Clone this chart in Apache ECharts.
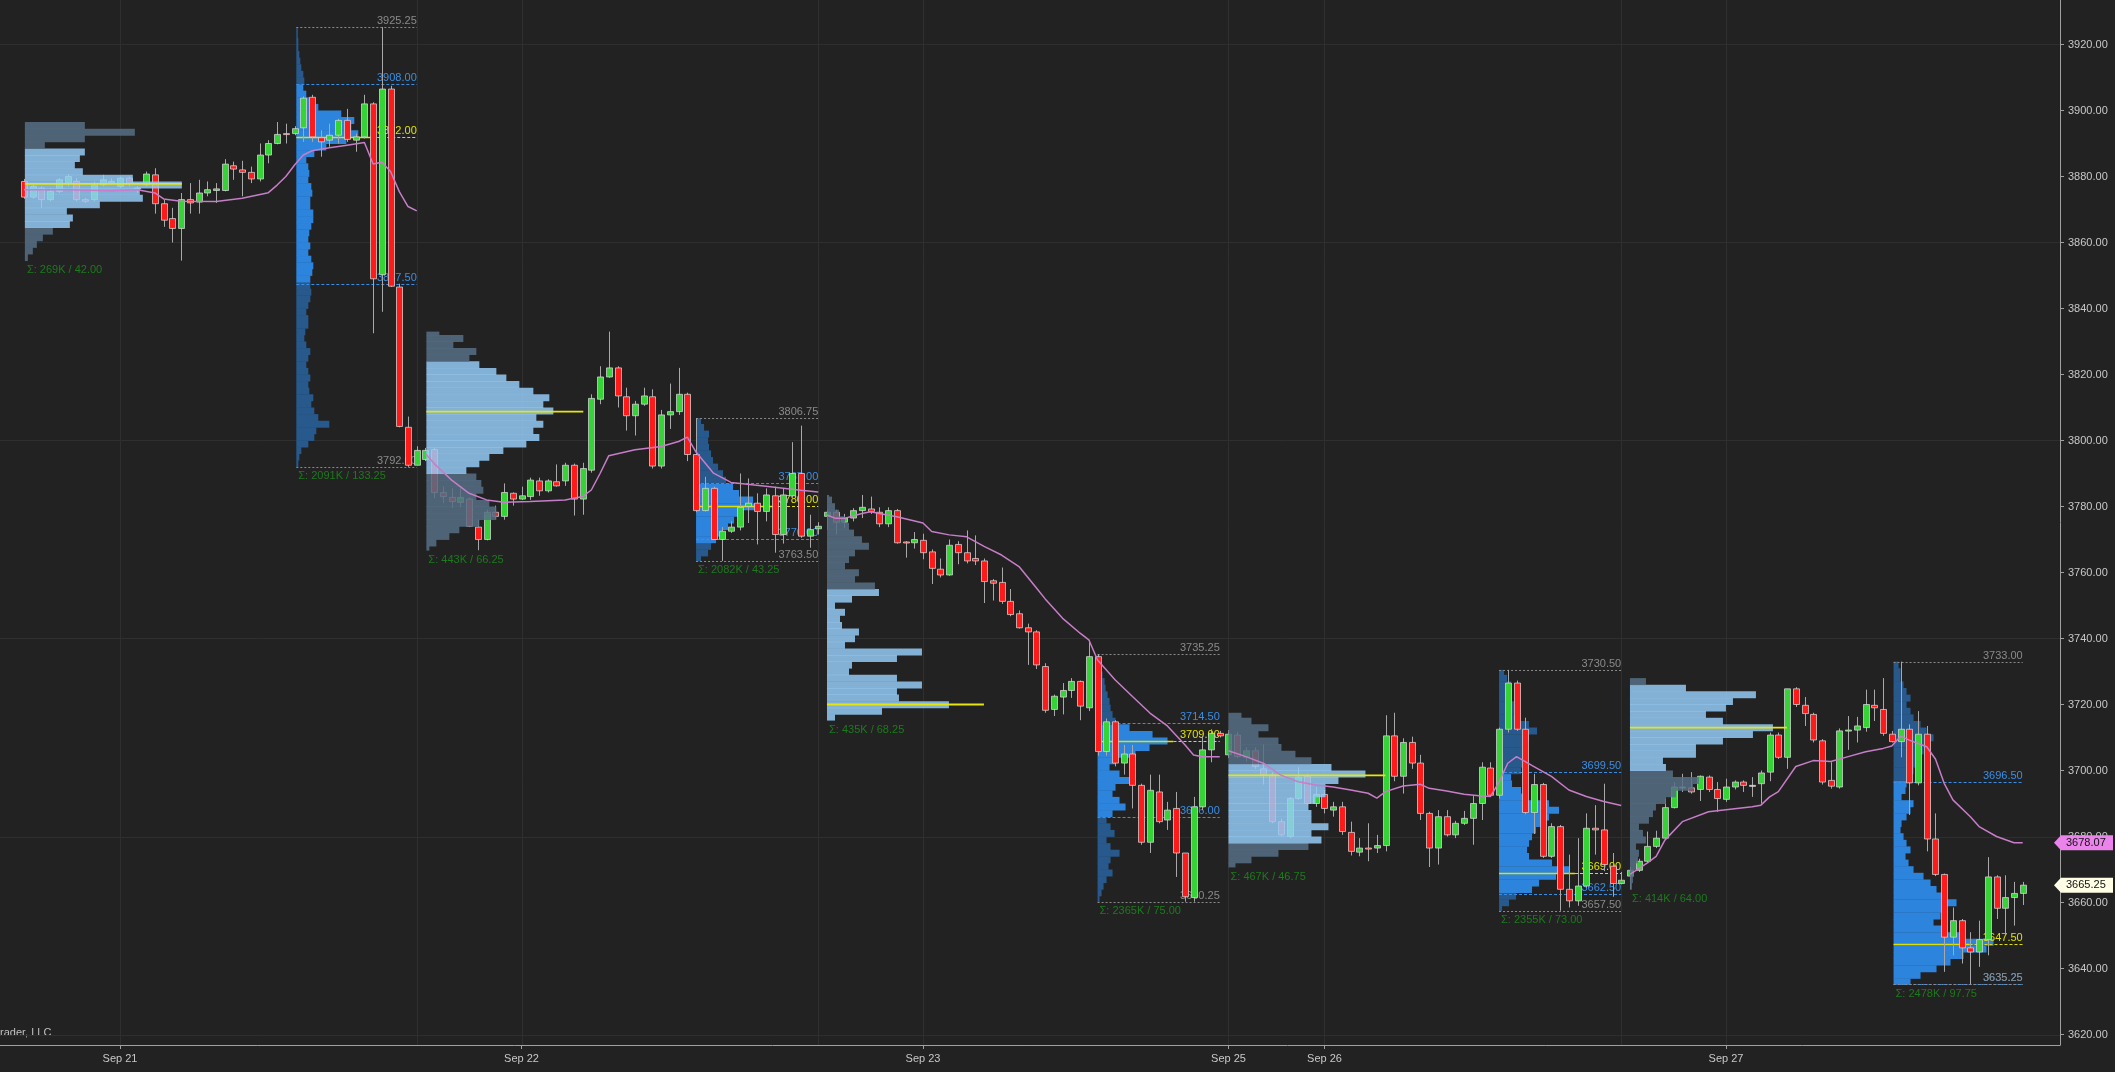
<!DOCTYPE html>
<html>
<head>
<meta charset="utf-8">
<script src="https://cdn.jsdelivr.net/npm/echarts@6/dist/echarts.min.js"></script>
<style>
html,body{margin:0;padding:0;background:#222222;overflow:hidden;}
#chart{width:2115px;height:1072px;}
</style>
</head>
<body>
<div id="chart"></div>
<script>
// ---------------- DATA ----------------
const dayBars  = [11, 57, 103, 138, 149, 195];
const dayNames = ['Sep 21', 'Sep 22', 'Sep 23', 'Sep 25', 'Sep 26', 'Sep 27'];
const gridBarsX = [11, 45, 57, 91, 103, 138, 149, 183, 195];
const gridPricesY = [3620, 3680, 3740, 3800, 3860, 3920];
const priceTicks = [3620, 3640, 3660, 3680, 3700, 3720, 3740, 3760, 3780, 3800, 3820, 3840, 3860, 3880, 3900, 3920];

// 30-minute bars, [open, high, low, close], one array per session
const sessionFirstBar = [0, 31, 46, 77, 92, 123, 138, 169, 184, 215];
const eth0920 = [
[3878.5,3879.25,3873.25,3873.75],[3873.75,3877.5,3873.25,3877.0],[3876.5,3877.0,3870.5,3873.0],
[3873.0,3876.5,3872.5,3875.5],[3875.5,3879.5,3875.0,3879.0],[3878.0,3880.75,3877.0,3880.0],
[3878.5,3879.5,3872.5,3873.0],[3873.0,3873.5,3872.0,3872.5],[3873.0,3878.5,3872.5,3877.5],
[3877.5,3880.5,3877.0,3879.0],[3878.0,3879.5,3877.5,3878.5],[3877.0,3880.0,3876.5,3879.5],
[3879.5,3880.0,3877.0,3878.0],[3876.5,3877.0,3875.0,3876.25],[3877.5,3881.5,3877.0,3880.75],
[3880.5,3882.5,3868.75,3871.75],[3871.75,3873.0,3864.75,3866.75],[3867.25,3870.5,3860.0,3864.25],
[3864.25,3875.0,3854.5,3873.0],[3873.0,3878.0,3868.75,3872.0],[3872.25,3879.0,3868.75,3875.0],
[3875.0,3878.5,3874.0,3876.0],[3875.75,3878.0,3872.0,3876.25],[3875.75,3885.25,3875.5,3883.75],
[3883.25,3884.5,3879.0,3882.25],[3882.0,3884.75,3874.0,3881.25],[3881.25,3883.0,3878.0,3879.25],
[3879.25,3890.0,3878.5,3886.5],[3886.5,3891.0,3884.0,3890.0],[3890.0,3896.5,3889.75,3892.75],
[3893.0,3896.0,3890.0,3892.75]];
const rth0921 = [
[3893.0,3895.25,3892.5,3894.5],[3894.75,3904.25,3890.5,3903.75],[3904.0,3904.75,3890.5,3892.0],
[3891.75,3894.0,3886.0,3890.5],[3891.0,3896.0,3889.0,3892.5],[3892.5,3897.5,3890.0,3897.0],
[3897.0,3900.5,3890.5,3891.25],[3891.0,3893.0,3887.5,3892.0],[3892.0,3904.75,3891.5,3902.0],
[3902.0,3902.5,3832.5,3849.0],[3850.25,3925.25,3839.0,3906.5],[3906.5,3907.5,3846.5,3846.75],
[3846.5,3847.5,3804.0,3804.25],[3804.0,3807.25,3792.0,3792.5],[3792.5,3798.25,3792.5,3797.0]];
const eth0921 = [
[3794.25,3797.75,3793.75,3797.0],[3797.25,3797.75,3782.5,3784.25],[3784.25,3786.0,3781.0,3783.0],
[3782.75,3785.5,3779.5,3781.5],[3781.25,3785.5,3779.75,3782.75],[3782.25,3782.75,3773.75,3774.0],
[3773.75,3776.0,3766.75,3770.0],[3770.0,3779.0,3769.75,3778.25],[3778.25,3780.25,3776.25,3777.0],
[3777.0,3787.0,3776.0,3784.25],[3784.0,3784.25,3780.25,3782.25],[3782.25,3786.0,3782.0,3783.25],
[3783.0,3788.75,3782.0,3788.0],[3787.75,3788.75,3783.25,3784.75],[3784.75,3788.25,3784.25,3787.75],
[3787.5,3792.75,3786.0,3786.25],[3787.75,3793.25,3786.25,3792.5],[3792.5,3793.0,3777.25,3782.25],
[3782.25,3793.25,3777.5,3791.5],[3791.0,3814.0,3790.25,3812.75],[3812.5,3822.5,3811.0,3819.25],
[3819.25,3833.0,3819.0,3822.0],[3822.0,3822.5,3810.0,3813.5],[3813.25,3816.0,3803.0,3807.5],
[3807.5,3812.0,3801.5,3811.0],[3811.0,3816.0,3810.5,3813.5],[3813.25,3815.5,3791.5,3792.25],
[3792.25,3809.25,3791.5,3807.75],[3807.75,3817.25,3803.5,3808.75],[3808.75,3822.0,3807.75,3814.0],
[3814.0,3814.5,3793.75,3795.75]];
const rth0922 = [
[3795.75,3806.75,3778.25,3778.75],[3778.75,3789.0,3778.5,3785.5],[3785.5,3786.0,3770.0,3770.0],
[3770.0,3773.75,3763.5,3772.5],[3772.5,3775.5,3772.0,3773.75],[3773.75,3790.0,3772.75,3779.75],
[3780.0,3788.5,3775.0,3781.0],[3781.0,3784.0,3768.5,3778.5],[3778.5,3785.5,3775.5,3783.5],
[3783.25,3786.0,3766.0,3771.5],[3771.5,3785.5,3768.75,3783.5],[3783.25,3799.5,3782.75,3790.0],
[3790.0,3804.5,3770.5,3771.0],[3771.0,3777.5,3767.5,3773.0],[3773.25,3775.25,3771.5,3774.0]];
const eth0922 = [
[3777.0,3779.0,3773.0,3778.25],[3778.25,3779.0,3771.5,3775.25],[3775.25,3777.75,3773.5,3776.5],
[3776.5,3779.5,3775.5,3778.75],[3778.75,3783.5,3776.5,3779.75],[3779.25,3783.0,3777.75,3778.5],
[3778.25,3779.75,3773.75,3774.75],[3774.75,3779.75,3773.75,3778.75],[3778.75,3779.25,3768.75,3769.0],
[3769.25,3769.5,3764.5,3769.0],[3769.0,3772.25,3767.25,3770.0],[3769.75,3771.75,3764.0,3766.0],
[3766.25,3767.0,3756.5,3761.25],[3761.0,3764.25,3758.5,3759.25],[3759.25,3770.0,3759.0,3768.25],
[3768.5,3769.5,3762.5,3766.0],[3766.0,3772.75,3762.75,3763.5],[3764.25,3771.25,3762.25,3763.5],
[3763.5,3764.25,3750.75,3757.25],[3757.5,3758.0,3751.5,3756.75],[3757.0,3761.5,3750.5,3751.25],
[3751.25,3755.0,3746.75,3747.25],[3747.5,3748.5,3743.0,3743.25],[3743.25,3744.5,3732.0,3742.0],
[3742.0,3742.5,3730.75,3732.0],[3731.5,3732.5,3717.5,3718.25],[3718.5,3723.0,3716.5,3722.5],
[3722.25,3726.5,3717.0,3724.25],[3724.25,3728.0,3722.0,3727.0],[3727.0,3727.25,3715.25,3719.5],
[3719.0,3739.5,3718.0,3734.5]];
const rth0923 = [
[3734.5,3735.25,3704.5,3705.75],[3705.75,3715.75,3704.5,3714.75],[3714.75,3715.25,3701.25,3702.25],
[3702.25,3707.75,3698.75,3705.0],[3705.0,3707.75,3688.5,3695.5],[3695.5,3696.0,3677.5,3678.25],
[3678.25,3698.75,3675.0,3694.0],[3693.5,3698.75,3684.0,3684.5],[3685.0,3690.5,3682.0,3688.0],
[3688.5,3693.5,3667.75,3675.0],[3675.0,3675.0,3660.25,3661.75],[3661.5,3692.0,3660.25,3689.0],
[3689.0,3710.5,3688.0,3706.25],[3706.25,3712.5,3702.5,3711.25],[3711.25,3712.0,3710.0,3710.5]];
const eth0925 = [
[3704.75,3712.25,3703.75,3711.0],[3710.75,3711.75,3703.75,3704.25],[3704.0,3707.0,3702.75,3706.0],
[3706.0,3707.0,3700.5,3701.25],[3700.5,3708.0,3695.75,3698.75],[3698.75,3699.5,3684.0,3684.5],
[3684.5,3685.5,3680.0,3680.5],[3680.0,3692.0,3679.5,3691.5],[3691.5,3701.0,3691.0,3698.0],
[3698.25,3699.0,3689.5,3690.0],[3690.0,3695.0,3689.0,3692.75],[3692.75,3694.0,3687.0,3688.5],
[3688.0,3690.5,3686.0,3689.0],[3689.0,3690.5,3680.5,3681.5],[3681.25,3684.5,3674.25,3675.5],
[3675.25,3679.5,3674.0,3676.5],[3676.5,3684.0,3672.5,3676.25],[3676.5,3680.5,3675.0,3677.25],
[3677.25,3716.75,3675.5,3710.5],[3710.5,3717.5,3696.75,3698.25],[3698.25,3709.75,3693.0,3708.5],
[3708.5,3710.25,3700.5,3702.25],[3702.25,3704.75,3685.0,3687.0],[3687.0,3687.5,3670.75,3676.5],
[3676.5,3688.0,3671.5,3686.0],[3686.0,3688.0,3680.0,3680.5],[3680.5,3684.75,3679.5,3684.0],
[3684.0,3687.75,3683.5,3685.5],[3685.5,3692.25,3677.5,3690.0],[3690.0,3702.5,3685.0,3701.0],
[3700.75,3702.5,3692.0,3692.5]];
const rth0926 = [
[3692.5,3713.0,3691.5,3712.5],[3712.5,3730.5,3711.5,3726.5],[3726.5,3727.25,3712.0,3712.5],
[3712.5,3716.0,3686.75,3687.25],[3687.25,3699.0,3680.75,3695.75],[3695.75,3696.25,3673.5,3674.0],
[3674.0,3684.0,3673.5,3683.0],[3683.0,3683.5,3657.5,3664.0],[3664.0,3674.5,3658.5,3660.5],
[3660.5,3679.5,3659.0,3665.0],[3665.0,3687.0,3664.5,3682.5],[3682.5,3689.5,3674.5,3682.0],
[3682.0,3696.0,3669.5,3671.5],[3671.0,3675.0,3661.75,3665.75],[3665.75,3669.25,3665.5,3666.75]];
const eth0926 = [
[3668.0,3670.75,3664.0,3669.75],[3669.75,3673.25,3669.25,3672.5],[3672.5,3681.5,3672.0,3677.0],
[3677.0,3681.75,3676.5,3679.5],[3679.5,3691.5,3679.0,3688.75],[3688.75,3696.5,3688.5,3695.0],
[3695.0,3699.0,3693.5,3695.0],[3694.75,3699.5,3693.0,3693.5],[3694.25,3698.5,3690.75,3698.25],
[3698.0,3698.5,3693.5,3694.25],[3694.25,3696.5,3687.5,3691.5],[3691.25,3697.5,3690.5,3695.0],
[3695.0,3697.0,3694.25,3696.5],[3696.5,3697.0,3693.5,3695.5],[3695.5,3698.0,3692.0,3695.5],
[3696.0,3700.0,3690.0,3699.25],[3699.5,3711.5,3696.75,3710.75],[3710.75,3711.5,3703.5,3704.0],
[3704.0,3724.75,3700.5,3724.75],[3724.75,3725.25,3719.25,3720.0],[3719.75,3722.25,3713.5,3717.25],
[3717.0,3717.5,3708.5,3709.25],[3709.0,3709.5,3695.75,3696.5],[3697.0,3702.5,3694.5,3695.25],
[3695.0,3712.75,3694.5,3712.0],[3712.0,3716.5,3706.25,3712.25],[3712.25,3716.25,3708.5,3713.5],
[3713.0,3724.5,3711.75,3720.0],[3719.75,3724.5,3715.0,3719.0],[3718.5,3728.0,3710.5,3711.25],
[3711.0,3712.0,3708.5,3708.75]];
const rth0927 = [
[3708.75,3733.0,3704.0,3712.5],[3712.5,3714.0,3686.5,3696.25],[3696.25,3718.0,3695.5,3711.0],
[3711.0,3713.5,3675.5,3679.25],[3679.25,3687.0,3668.0,3668.5],[3668.5,3668.75,3639.0,3649.5],
[3649.5,3658.5,3644.0,3654.5],[3654.5,3655.0,3641.5,3646.25],[3646.25,3651.0,3635.25,3645.0],
[3645.0,3654.5,3640.5,3648.75],[3648.75,3673.75,3644.0,3667.75],[3667.75,3668.25,3655.0,3658.25],
[3658.25,3668.25,3650.0,3661.5],[3661.5,3666.25,3653.0,3662.75],[3662.75,3666.25,3659.25,3665.25]];

// VWAP readings [bar, price], one line per trading day
const vwapDay1 = [[0,3876],[5,3876],[10,3875.7],[13,3876],[15,3875],[16,3873.2],[18,3872.5],[22,3872.4],[25,3873.4],[28,3875.1],[29,3877.4],[30,3880],[31,3883.5],[32,3886.5],[33,3887.8],[35,3888.7],[37,3889.5],[39,3890.3],[40,3883.8],[41,3884.3],[42,3881.5],[43,3875.4],[44,3870.9],[45,3869.6]];
const vwapDay2 = [[46,3796],[47,3793],[49,3788],[51,3784],[53,3782],[55,3781.3],[58,3781.5],[62,3782],[64,3783],[65,3785],[66,3790],[67,3795.4],[70,3797.2],[73,3798.2],[75,3799.7],[76,3801],[77,3796.5],[79,3790.1],[81,3787.3],[85,3786.1],[89,3784.9],[91,3784.4]];
const vwapDay3 = [[92,3777.4],[93,3776.4],[94,3776.4],[96,3777.9],[97,3778.4],[98,3777.9],[100,3776.9],[103,3775],[104,3772.4],[106,3771.4],[108,3770.8],[110,3767.9],[112,3765.3],[114,3761.8],[116,3755.3],[117,3752],[119,3746.1],[121,3741.6],[122,3739.6],[123,3733.5],[125,3727.5],[127,3722.4],[129,3717.4],[131,3713.5],[133,3707.8],[134,3704.7],[135,3704.2],[137,3704.2]];
const vwapDay4 = [[138,3706],[140,3704.2],[142,3702.2],[144,3698.6],[146,3696.6],[148,3695.6],[150,3695],[152,3694.1],[154,3693.1],[155,3691.6],[156,3693.6],[158,3695.3],[160,3695.8],[161,3694.6],[163,3693.8],[165,3692.8],[167,3692.3],[168,3692.1],[169,3696.5],[170,3702.2],[171,3704.2],[173,3701.2],[175,3698.2],[177,3694.1],[179,3692.1],[181,3690.6],[183,3689.4]];
const vwapDay5 = [[184,3668.5],[186,3672],[187,3674],[188,3678.9],[190,3684.5],[193,3687.5],[198,3689],[199,3689.5],[200,3692],[201,3693.6],[203,3701.2],[205,3703],[207,3702.7],[209,3704.2],[211,3705.7],[213,3706.7],[214,3707.4],[215,3710.4],[216,3709.2],[218,3707.2],[219,3703.5],[220,3696.1],[221,3691.1],[223,3686],[224,3683],[226,3680],[228,3678.1],[229,3678.07]];

// Session volume profiles (relative volume per 2-point price bin, from bin low upward)
const profStart = [0.1, 31.2, 46.1, 77, 92, 123, 138, 169, 184, 214.2];
const profLo    = [3854.5, 3792, 3766, 3763, 3715, 3660, 3670, 3657, 3664, 3635];
const profHigh  = [3896.5, 3925.25, 3833, 3806.75, 3783.5, 3735.25, 3717.5, 3730.5, 3728, 3733];
const profLow   = [3854.5, 3792, 3766.75, 3763.5, 3715.25, 3660.25, 3670.75, 3657.5, 3664, 3635.25];
const profPoc   = [3877.75, 3892, 3808.75, 3780, 3720, 3709, 3698.5, 3669, 3713, 3647.5];
const profVah   = [3887.5, 3908, 3823, 3787, 3755.25, 3714.5, 3701.25, 3699.5, 3725.5, 3696.5];
const profVal   = [3865.5, 3847.5, 3789.5, 3770, 3715.25, 3686, 3678.25, 3662.5, 3699.5, 3635.25];
const profTotal = ['269K', '2091K', '443K', '2082K', '435K', '2365K', '467K', '2355K', '414K', '2478K'];
const volEth0920 = [3,8,12,18,28,45,48,42,75,118,115,157,108,58,50,55,60,20,60,110,60];
const volRth0921 = [2,3,5,12,18,20,33,22,18,15,17,13,12,14,12,10,12,14,10,8,9,12,12,10,12,14,15,14,14,16,17,15,12,14,12,13,15,17,17,14,14,16,15,12,13,12,10,18,30,50,62,55,58,45,22,14,10,7,8,7,5,4,3,2,2,1,1];
const volEth0921 = [3,10,23,33,53,70,70,63,50,57,55,50,40,53,63,77,100,113,107,117,110,127,117,123,107,93,80,70,53,43,50,27,37,13];
const volRth0922 = [5,12,15,20,27,32,38,43,63,57,43,37,30,27,22,17,15,13,12,13,8,5];
const volEth0922 = [8,55,122,72,70,95,70,22,25,70,95,18,28,32,15,13,18,8,25,52,48,28,32,18,22,28,42,35,27,22,18,12,8,5,2];
const volRth0923 = [2,4,6,9,15,11,13,22,13,9,17,13,9,15,28,22,15,18,32,22,12,18,38,52,70,55,32,18,15,13,12,10,8,7,5,3,2,2];
const volEth0925 = [7,23,50,80,93,83,100,83,83,80,87,97,97,110,137,103,83,67,53,50,30,40,23,13];
const volRth0926 = [3,10,17,33,40,57,70,53,30,28,30,33,37,43,50,60,50,28,22,13,12,22,23,24,25,27,30,38,30,18,15,15,13,13,12,8,5];
const volEth0926 = [2,3,4,6,8,9,6,16,13,9,19,23,26,36,46,63,69,43,36,33,66,66,93,123,143,93,76,96,103,126,56,16];
const volRth0927 = [17,27,43,57,70,93,100,67,53,40,47,53,63,50,43,37,30,20,15,12,17,13,10,7,8,13,17,20,8,12,13,17,20,23,27,30,33,40,33,27,20,17,13,17,13,10,7,7,5];

// ---------------- BUILD ----------------
const FONT = '"Liberation Sans", Arial, sans-serif';
const VOL_TO_BAR = 1 / 8.73;
const BIN = 2;
const sessions = [eth0920, rth0921, eth0921, rth0922, eth0922, rth0923, eth0925, rth0926, eth0926, rth0927];
const profVols = [volEth0920, volRth0921, volEth0921, volRth0922, volEth0922, volRth0923, volEth0925, volRth0926, volEth0926, volRth0927];
const sessionLastBar = sessionFirstBar.map((b, i) => i < sessionFirstBar.length - 1 ? sessionFirstBar[i + 1] - 1 : b + sessions[i].length - 1);

const candleData = [];
sessions.forEach((rows, s) => rows.forEach((r, i) => candleData.push([sessionFirstBar[s] + i, r[0], r[1], r[2], r[3]])));

const ethBins = [], rthBins = [];
profVols.forEach((vols, p) => {
  const isRth = p % 2 === 1;
  vols.forEach((v, i) => {
    const b0 = profLo[p] + BIN * i;
    const lo = Math.max(b0, profLow[p]);
    const hi = Math.min(b0 + BIN, profHigh[p]);
    const mid = b0 + BIN / 2;
    const inVA = (mid >= profVal[p] - 0.01 && mid <= profVah[p] + 0.26) ? 1 : 0;
    (isRth ? rthBins : ethBins).push([profStart[p], lo, hi, v, inVA]);
  });
});

const levelData = [];
[1, 3, 5, 7, 9].forEach(p => { for (let t = 0; t < 5; t++) levelData.push([p, t]); });
const ethPocData = [0, 2, 4, 6, 8].map(p => [p, profPoc[p]]);
const sigmaData = profStart.map((s, p) => [p, profLow[p]]);

function binRenderer(cVA, cOut) {
  return function (params, api) {
    const x0 = api.value(0), lo = api.value(1), hi = api.value(2), vol = api.value(3), va = api.value(4);
    const a = api.coord([x0, hi]);
    const b = api.coord([x0 + vol * VOL_TO_BAR, lo]);
    return {
      type: 'rect',
      shape: { x: a[0], y: a[1], width: Math.max(b[0] - a[0], 1.5), height: b[1] - a[1] + 0.4 },
      style: { fill: va ? cVA : cOut }
    };
  };
}

const levelColors = ['#8a8a8a', '#3a8ee6', '#e0e000', '#3a8ee6', '#8a8a8a'];
const levelArrays = [profHigh, profVah, profPoc, profVal, profLow];

const option = {
  backgroundColor: '#222222',
  animation: false,
  grid: { left: 0, right: 55, top: 0, bottom: 27, containLabel: false },
  xAxis: {
    type: 'value', min: -2.75, max: 233.27,
    axisLine: { show: true, onZero: false, lineStyle: { color: '#a0a0a0', width: 1 } },
    axisTick: { show: true, customValues: dayBars, length: 4, lineStyle: { color: '#a0a0a0' } },
    axisLabel: {
      customValues: dayBars, color: '#c8c8c8', fontSize: 11, fontFamily: FONT, margin: 8,
      formatter: v => { const i = dayBars.indexOf(Math.round(v)); return i >= 0 ? dayNames[i] : ''; }
    },
    splitLine: { show: false }
  },
  yAxis: {
    type: 'value', position: 'right', min: 3616.82, max: 3933.48,
    axisLine: { show: true, onZero: false, lineStyle: { color: '#a0a0a0', width: 1 } },
    axisTick: { show: true, customValues: priceTicks, length: 4, lineStyle: { color: '#a0a0a0' } },
    axisLabel: { customValues: priceTicks, color: '#c8c8c8', fontSize: 11, fontFamily: FONT, margin: 8,
      formatter: v => v.toFixed(2) },
    splitLine: { show: false }
  },
  graphic: [{
    type: 'text', left: 0, top: 1027,
    style: { text: 'rader, LLC', fill: '#c0c0c0', font: '11px ' + FONT }
  }],
  series: [
    { // vertical grid lines
      type: 'custom', z: 0, silent: true,
      data: gridBarsX.map(k => [k, 3700]),
      renderItem: (params, api) => {
        const cs = params.coordSys;
        const x = Math.round(api.coord([api.value(0), 3700])[0]) + 0.5;
        return { type: 'line', shape: { x1: x, y1: cs.y, x2: x, y2: cs.y + cs.height }, style: { stroke: '#2f2f2f', lineWidth: 1 } };
      }
    },
    { // horizontal grid lines
      type: 'custom', z: 0, silent: true,
      data: gridPricesY.map(p => [100, p]),
      renderItem: (params, api) => {
        const cs = params.coordSys;
        const y = Math.round(api.coord([100, api.value(1)])[1]) + 0.5;
        return { type: 'line', shape: { x1: cs.x, y1: y, x2: cs.x + cs.width, y2: y }, style: { stroke: '#2f2f2f', lineWidth: 1 } };
      }
    },
    { // RTH profiles (behind candles)
      type: 'custom', z: 1, silent: true, data: rthBins,
      renderItem: binRenderer('#2c84dc', '#27598c')
    },
    { // RTH levels
      type: 'custom', z: 2, silent: true, data: levelData,
      renderItem: (params, api) => {
        const p = api.value(0), t = api.value(1);
        const price = levelArrays[t][p];
        const s = api.coord([profStart[p], price]);
        const e = api.coord([sessionLastBar[p], price]);
        const y = Math.round(s[1]) + 0.5;
        const children = [];
        if (t === 2) {
          const len = (sessionLastBar[p] - sessionFirstBar[p] + 1) * 0.58;
          const m = api.coord([profStart[p] + len, price]);
          children.push({ type: 'line', shape: { x1: s[0], y1: y, x2: m[0], y2: y }, style: { stroke: '#e0e000', lineWidth: 1.5 } });
          children.push({ type: 'line', shape: { x1: m[0], y1: y, x2: e[0], y2: y }, style: { stroke: '#e0e000', lineWidth: 1.2, lineDash: [3, 2] } });
        } else {
          children.push({ type: 'line', shape: { x1: s[0], y1: y, x2: e[0], y2: y },
            style: { stroke: levelColors[t], lineWidth: 1, lineDash: (t === 0 || t === 4) ? [2, 2] : [3, 2] } });
        }
        children.push({ type: 'text', x: e[0], y: y - 1,
          style: { text: price.toFixed(2), fill: levelColors[t], font: '11px ' + FONT, align: 'right', verticalAlign: 'bottom' } });
        return { type: 'group', children };
      }
    },
    { // candles
      type: 'custom', z: 3, silent: true, data: candleData,
      encode: { x: 0, y: [1, 2, 3, 4] },
      renderItem: (params, api) => {
        const k = api.value(0), o = api.value(1), h = api.value(2), l = api.value(3), c = api.value(4);
        const pO = api.coord([k, o]), pC = api.coord([k, c]), pH = api.coord([k, h]), pL = api.coord([k, l]);
        const w = 6;
        const x = Math.round(pO[0]) + 0.5;
        const top = Math.min(pO[1], pC[1]), bot = Math.max(pO[1], pC[1]);
        const up = c >= o;
        return { type: 'group', children: [
          { type: 'line', shape: { x1: x, y1: pH[1], x2: x, y2: pL[1] }, style: { stroke: '#a8a8a8', lineWidth: 1 } },
          { type: 'rect', shape: { x: x - w / 2, y: top, width: w, height: Math.max(bot - top, 1) },
            style: { fill: c === o ? '#d0d0d0' : (up ? '#36d336' : '#ff1a1a'), stroke: 'rgba(215,215,215,0.75)', lineWidth: 1 } }
        ] };
      }
    },
    { // ETH profiles (drawn over candles, translucent)
      type: 'custom', z: 4, silent: true, data: ethBins,
      renderItem: binRenderer('rgba(150,204,248,0.84)', 'rgba(86,110,132,0.85)')
    },
    { // ETH POC lines
      type: 'custom', z: 5, silent: true, data: ethPocData,
      renderItem: (params, api) => {
        const p = api.value(0), price = api.value(1);
        const len = (sessionLastBar[p] - sessionFirstBar[p] + 1) * 0.58;
        const s = api.coord([profStart[p], price]), e = api.coord([profStart[p] + len, price]);
        return { type: 'line', shape: { x1: s[0], y1: s[1], x2: e[0], y2: e[1] }, style: { stroke: '#e6e60f', lineWidth: 1.8 } };
      }
    },
    { // sigma labels
      type: 'custom', z: 5, silent: true, data: sigmaData,
      renderItem: (params, api) => {
        const p = api.value(0);
        const pt = api.coord([profStart[p], profLow[p]]);
        return { type: 'text', x: pt[0] + 2, y: pt[1] + 4,
          style: { text: 'Σ: ' + profTotal[p] + ' / ' + (profHigh[p] - profLow[p]).toFixed(2), fill: '#1d7a1d', font: '11px ' + FONT, align: 'left', verticalAlign: 'top' } };
      }
    },
    ...[vwapDay1, vwapDay2, vwapDay3, vwapDay4, vwapDay5].map(d => ({
      type: 'line', z: 6, silent: true, data: d, showSymbol: false, symbol: 'none',
      lineStyle: { color: '#c77dc7', width: 1.5 }
    })),
    { // price tags on the right axis
      type: 'custom', z: 10, silent: true,
      data: [[229, 3678.07, 0], [229, 3665.25, 1]],
      renderItem: (params, api) => {
        const price = api.value(1), t = api.value(2);
        const cs = params.coordSys;
        const y = api.coord([229, price])[1];
        const x0 = cs.x + cs.width - 6, x1 = 2113;
        return { type: 'group', children: [
          { type: 'polygon', shape: { points: [[x0, y], [x0 + 7, y - 7.5], [x1, y - 7.5], [x1, y + 7.5], [x0 + 7, y + 7.5]] },
            style: { fill: t === 0 ? '#ea84ea' : '#fffde4' } },
          { type: 'text', x: x0 + 12, y: y,
            style: { text: price.toFixed(2), fill: '#111', font: '11px ' + FONT, align: 'left', verticalAlign: 'middle' } }
        ] };
      }
    }
  ]
};

const chart = echarts.init(document.getElementById('chart'));
chart.setOption(option);
</script>
</body>
</html>
